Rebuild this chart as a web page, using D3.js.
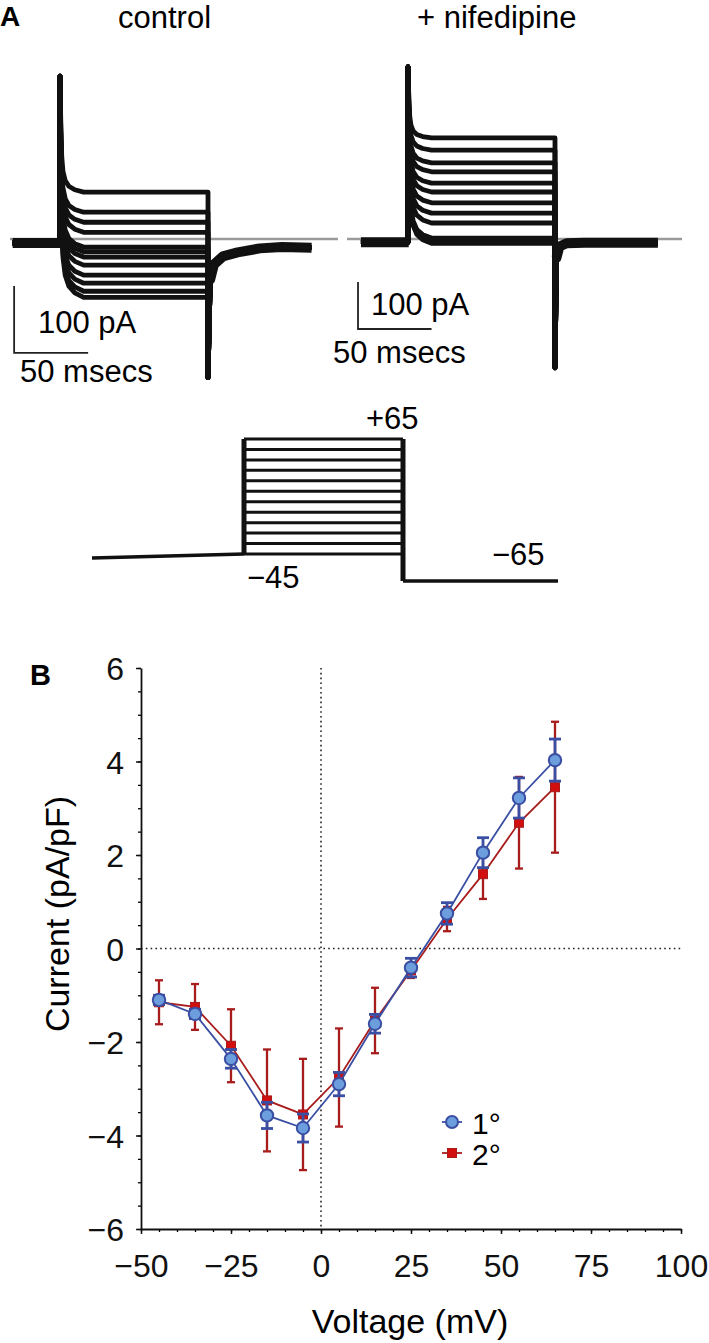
<!DOCTYPE html>
<html><head><meta charset="utf-8">
<script src="https://cdn.jsdelivr.net/npm/d3@7"></script>
<style>
html,body{margin:0;padding:0;background:#fff;}
svg{display:block;font-family:"Liberation Sans",Arial,Helvetica,sans-serif;}
</style></head>
<body>
<svg id="fig" width="709" height="1343"></svg>
<script>
// ---------- Panel A data ----------
const stepVoltages = [-45,-35,-25,-15,-5,5,15,25,35,45,55,65];
// steady-state current during the step (pA)
const controlSteady = [-19,-27,-54,-78,-87,-66,-39,-12,10,25,40,70];
const nifedipineSteady = [-9,-6,2,34,55,77,100,119,143,162,189,215];
const controlHolding = -6;
const nifedipineHolding = -7;
const controlPeak = 243, controlTailPeak = -207;
const nifedipinePeak = 366, nifedipineTailPeak = -274;
// capacitive transient decay: [ms after onset, fraction of (peak - steady) left]
const transientShape = [[0,1],[0.6,0.55],[1.2,0.3],[2,0.18],[3.5,0.1],[6,0.05],[10,0.02],[16,0]];
// tail currents after the step: [ms after step end, pA]
const controlTail = [[1.5,-60],[4,-38],[10,-26],[20,-20],[35,-14],[50,-12],[70,-13]];
const nifedipineTail = [[1,-40],[3,-16],[8,-9],[20,-8],[70,-8]];
const traceStart = -32, traceEnd = 170;

// voltage protocol (mV)
const protocolPre = [[-95.6,-48.8],[0,-45]];
const protocolPost = -70.8;
const protocolPostEnd = 197.5;

// ---------- Panel B data ----------
const voltages = [-45,-35,-25,-15,-5,5,15,25,35,45,55,65];
const primaryMean = [-1.1,-1.4,-2.36,-3.57,-3.84,-2.9,-1.61,-0.41,0.75,2.05,3.22,4.03];
const primarySem = [0.1,0.1,0.2,0.28,0.3,0.25,0.2,0.2,0.23,0.32,0.43,0.45];
const secondaryMean = [-1.15,-1.25,-2.08,-3.25,-3.55,-2.76,-1.54,-0.47,0.63,1.59,2.69,3.45];
const secondarySem = [0.47,0.49,0.78,1.09,1.19,1.05,0.7,0.16,0.26,0.53,0.98,1.4];
const xTicks = [-50,-25,0,25,50,75,100];
const yTicks = [-6,-4,-2,0,2,4,6];
const legendLabels = ["1°","2°"];

const svg = d3.select("#fig");
const FONT = '"Liberation Sans",Arial,Helvetica,sans-serif';
const FA = 31;

// ---------- Panel A ----------
svg.append("text").attr("x",0).attr("y",26).attr("font-size",28).attr("font-weight","bold").text("A");
svg.append("text").attr("x",118).attr("y",28).attr("font-size",FA).text("control");
svg.append("text").attr("x",417).attr("y",28).attr("font-size",FA).text("+ nifedipine");

function buildTrace(ss, hold, peak, tailPeak, tail){
  const pts = [[traceStart, hold],[0, hold]];
  transientShape.forEach(([dt,f]) => pts.push([dt, ss + (peak-ss)*f]));
  pts.push([100, ss]);
  pts.push([100, tailPeak]);
  tail.forEach(([dt,v]) => pts.push([100+dt, v]));
  return pts;
}

function drawTraces(cfg){
  const g = svg.append("g");
  const tx = d3.scaleLinear().domain([0,100]).range(cfg.xr);
  const iy = d3.scaleLinear().domain([0,100]).range(cfg.yr);
  const line = d3.line().x(d=>tx(d[0])).y(d=>iy(d[1]));
  g.append("path").attr("d", line([[cfg.gray[0],0],[cfg.gray[1],0]]))
    .attr("stroke","#9a9a9a").attr("stroke-width",2.5).attr("fill","none");
  g.append("path").attr("d", line([[traceStart,cfg.hold],[0.5,cfg.hold]]))
    .attr("stroke","#111").attr("stroke-width",cfg.band).attr("fill","none");
  g.append("path").attr("d", line([[100,cfg.tail[0][1]]].concat(cfg.tail.map(([dt,v])=>[100+dt,v]))))
    .attr("stroke","#111").attr("stroke-width",cfg.band).attr("fill","none").attr("stroke-linejoin","round");
  cfg.steady.forEach(ss => {
    g.append("path").attr("d", line(buildTrace(ss, cfg.hold, cfg.peak, cfg.tailPeak, cfg.tail)))
      .attr("stroke","#111").attr("stroke-width",4.8).attr("fill","none").attr("stroke-linejoin","round");
  });
  const sb = cfg.bar;
  g.append("path").attr("d", line([[sb.t, sb.i+100],[sb.t, sb.i],[sb.t+50, sb.i]]))
    .attr("stroke","#222").attr("stroke-width",1.8).attr("fill","none");
  g.append("text").attr("x",cfg.pAText[0]).attr("y",cfg.pAText[1]).attr("font-size",FA).text("100 pA");
  g.append("text").attr("x",cfg.msText[0]).attr("y",cfg.msText[1]).attr("font-size",FA).text("50 msecs");
}

drawTraces({xr:[60,208], yr:[239,172], gray:[-33.8,187.8], hold:controlHolding, band:10,
  steady:controlSteady, peak:controlPeak, tailPeak:controlTailPeak, tail:controlTail,
  bar:{t:-31, i:-170}, pAText:[38,333], msText:[20,382]});
drawTraces({xr:[408,555], yr:[239,192], gray:[-41.5,186.4], hold:nifedipineHolding, band:10,
  steady:nifedipineSteady, peak:nifedipinePeak, tailPeak:nifedipineTailPeak, tail:nifedipineTail,
  bar:{t:-34, i:-191.5}, pAText:[371,315], msText:[333,363]});

// voltage protocol
(function(){
  const g = svg.append("g");
  const tp = d3.scaleLinear().domain([0,100]).range([244,403]);
  const vp = d3.scaleLinear().domain([-45,65]).range([554,439]);
  const line = d3.line().x(d=>tp(d[0])).y(d=>vp(d[1]));
  g.append("path").attr("d", line(protocolPre)).attr("stroke","#111").attr("stroke-width",3.4).attr("fill","none");
  stepVoltages.forEach(v => {
    g.append("path").attr("d", line([[0,v],[100,v]])).attr("stroke","#111").attr("stroke-width",3).attr("fill","none");
  });
  g.append("path").attr("d", line([[0,-45],[0,65]])).attr("stroke","#111").attr("stroke-width",5).attr("fill","none");
  g.append("path").attr("d", line([[100,65],[100,protocolPost]])).attr("stroke","#111").attr("stroke-width",5).attr("fill","none");
  g.append("path").attr("d", line([[100,protocolPost],[protocolPostEnd,protocolPost]])).attr("stroke","#111").attr("stroke-width",3.6).attr("fill","none");
  g.append("text").attr("x",366).attr("y",429).attr("font-size",FA).text("+65");
  g.append("text").attr("x",247).attr("y",588).attr("font-size",FA).text("\u221245");
  g.append("text").attr("x",492).attr("y",565).attr("font-size",FA).text("\u221265");
})();

// ---------- Panel B ----------
svg.append("text").attr("x",30).attr("y",685).attr("font-size",29).attr("font-weight","bold").text("B");

const x = d3.scaleLinear().domain([-50,100]).range([141,681]);
const y = d3.scaleLinear().domain([-6,6]).range([1229,668]);
const fmt = d => d < 0 ? "\u2212" + Math.abs(d) : String(d);

const gB = svg.append("g");
gB.append("g").attr("transform","translate(0,1229)")
  .call(d3.axisBottom(x).tickValues(d3.range(-50,101,5)).tickSize(3).tickFormat(""))
  .call(g=>{g.select(".domain").remove(); g.selectAll("line").attr("stroke-width",1.3);});
gB.append("g").attr("transform","translate(141,0)")
  .call(d3.axisLeft(y).tickValues(d3.range(-6,6.01,0.5)).tickSize(3).tickFormat(""))
  .call(g=>{g.select(".domain").remove(); g.selectAll("line").attr("stroke-width",1.3);});
const xAxis = gB.append("g").attr("transform","translate(0,1229)")
  .call(d3.axisBottom(x).tickValues(xTicks).tickSize(5).tickSizeOuter(0).tickPadding(20).tickFormat(fmt));
const yAxis = gB.append("g").attr("transform","translate(141,0)")
  .call(d3.axisLeft(y).tickValues(yTicks).tickSize(5).tickSizeOuter(0).tickPadding(12).tickFormat(fmt));
[xAxis,yAxis].forEach(a=>{
  a.selectAll("text").attr("font-size",32).attr("font-family",FONT).attr("fill","#111");
  a.selectAll("line").attr("stroke-width",1.5).attr("stroke","#111");
  a.select(".domain").attr("stroke-width",1.8).attr("stroke","#111");
});
yAxis.selectAll("text").attr("dy","0.36em");

gB.append("line").attr("x1",x(-50)).attr("x2",x(100)).attr("y1",y(0)).attr("y2",y(0))
  .attr("stroke","#222").attr("stroke-width",1.6).attr("stroke-dasharray","1.6,3.2");
gB.append("line").attr("x1",x(0)).attr("x2",x(0)).attr("y1",y(6)).attr("y2",y(-6))
  .attr("stroke","#222").attr("stroke-width",1.6).attr("stroke-dasharray","1.6,3.2");

svg.append("text").attr("x",410).attr("y",1333).attr("text-anchor","middle").attr("font-size",34).text("Voltage (mV)");
svg.append("text").attr("transform","translate(69,914) rotate(-90)").attr("text-anchor","middle").attr("font-size",34).text("Current (pA/pF)");

const series = [
  {mean:secondaryMean, sem:secondarySem, line:"#a81c1c", fill:"#d10f0f", shape:"square", cap:4, ew:2.3},
  {mean:primaryMean, sem:primarySem, line:"#3a4fa3", fill:"#6c9ddc", shape:"circle", cap:6, ew:2.8}
];
const lineGen = d3.line().x((d,i)=>x(voltages[i])).y(d=>y(d));
series.forEach(s => {
  const g = gB.append("g");
  g.append("path").attr("d", lineGen(s.mean)).attr("stroke",s.line).attr("stroke-width",1.8).attr("fill","none");
  voltages.forEach((v,i)=>{
    const lo = s.mean[i]-s.sem[i], hi = s.mean[i]+s.sem[i];
    g.append("line").attr("x1",x(v)).attr("x2",x(v)).attr("y1",y(lo)).attr("y2",y(hi)).attr("stroke",s.line).attr("stroke-width",s.ew);
    [lo,hi].forEach(e=>g.append("line").attr("x1",x(v)-s.cap).attr("x2",x(v)+s.cap).attr("y1",y(e)).attr("y2",y(e)).attr("stroke",s.line).attr("stroke-width",s.ew));
  });
  voltages.forEach((v,i)=>{
    if(s.shape==="circle"){
      g.append("circle").attr("cx",x(v)).attr("cy",y(s.mean[i])).attr("r",6.2).attr("fill",s.fill).attr("stroke",s.line).attr("stroke-width",2);
    } else {
      g.append("rect").attr("x",x(v)-4.5).attr("y",y(s.mean[i])-4.5).attr("width",9).attr("height",9).attr("fill",s.fill).attr("stroke",s.line).attr("stroke-width",1);
    }
  });
});

// legend
const leg = svg.append("g");
const legY = [1122, 1153];
[series[1], series[0]].forEach((s,k)=>{
  const cy = legY[k];
  leg.append("line").attr("x1",442).attr("x2",462).attr("y1",cy).attr("y2",cy).attr("stroke",s.line).attr("stroke-width",1.8);
  if(s.shape==="circle") leg.append("circle").attr("cx",452).attr("cy",cy).attr("r",6).attr("fill",s.fill).attr("stroke",s.line).attr("stroke-width",2);
  else leg.append("rect").attr("x",447.5).attr("y",cy-4.5).attr("width",9).attr("height",9).attr("fill",s.fill).attr("stroke",s.line).attr("stroke-width",1);
  leg.append("text").attr("x",472).attr("y",cy+12).attr("font-size",30).text(legendLabels[k]);
});
</script>
</body></html>
